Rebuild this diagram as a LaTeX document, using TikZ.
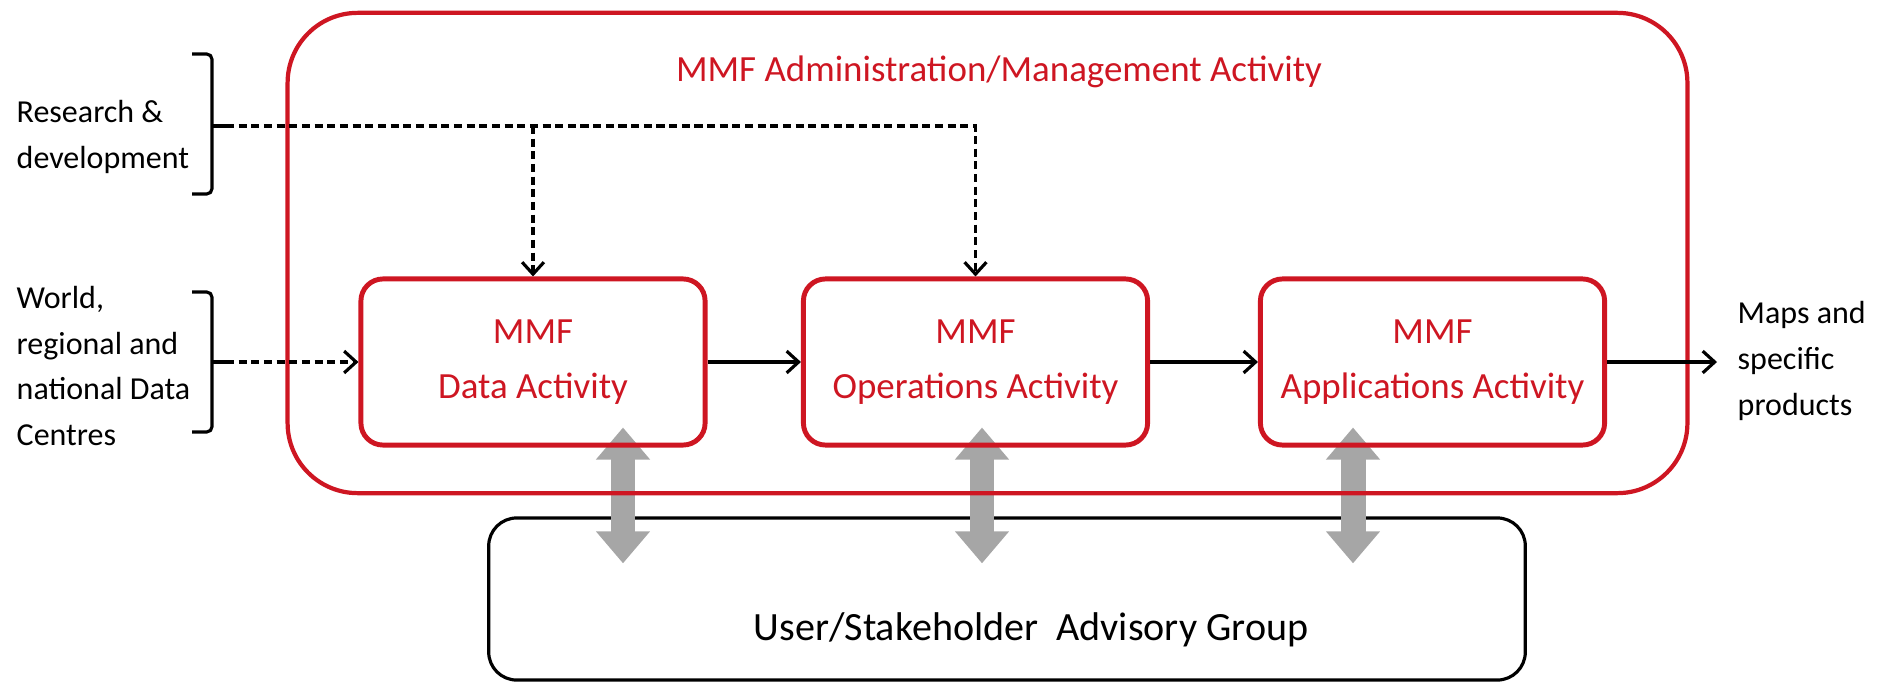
\documentclass[tikz,border=0pt]{standalone}
\usepackage{fontspec}
\setmainfont{Carlito}
\usetikzlibrary{calc}
\usetikzlibrary{arrows.meta}

\definecolor{mmfred}{RGB}{206,22,34}
\definecolor{mmfgray}{RGB}{166,166,166}

\pgfdeclarelayer{back}
\pgfsetlayers{back,main}

\tikzset{
  actbox/.style={draw=mmfred, line width=1.4pt, rounded corners=0.22cm,
    minimum width=3.44cm, minimum height=1.66cm, inner sep=0pt,
    align=center, text=mmfred, font=\fontsize{10.5pt}{15.6pt}\selectfont},
  sidetext/.style={anchor=west, align=left, inner sep=0pt,
    font=\fontsize{9.1pt}{13pt}\selectfont},
  flow/.style={->, >={Straight Barb[length=3.4pt,width=6.2pt]}, line width=0.9pt},
  dashflow/.style={flow, dash pattern=on 2.3pt off 1.3pt},
  bracket/.style={line width=0.9pt, rounded corners=1.5pt},
  bigarrow/.style={draw=mmfgray, line width=7.1pt,
    {Triangle[width=14.8pt,length=9.1pt]}-{Triangle[width=14.8pt,length=9.1pt]}}
}

\begin{document}
\begin{tikzpicture}[x=0.01cm, y=-0.01cm]
\useasboundingbox (0,0) rectangle (1885,682);

% outer management box
\node[draw=mmfred, line width=1.2pt, rounded corners=0.7cm,
  minimum width=13.99cm, minimum height=4.8cm] (admin) at (987.5,253) {};
\node[text=mmfred, font=\fontsize{10.5pt}{12pt}\selectfont] (admintitle) at (999,72)
  {MMF Administration/Management Activity};

% the three activities
\node[actbox] (data) at (533,362) {MMF\\Data Activity};
\node[actbox] (ops) at (975.5,362) {MMF\\Operations Activity};
\node[actbox] (apps) at (1432.5,362) {MMF\\Applications Activity};

% inputs and outputs
\node[sidetext] (research) at (16,137) {Research \&\\development};
\node[sidetext] (centres) at (16,366) {World,\\regional and\\national Data\\Centres};
\node[sidetext] (maps) at (1737,361) {Maps and\\specific\\products};

\coordinate (rdtip) at (226,126);
\coordinate (wdtip) at (226,362);
\coordinate (prodend) at (1717,362);

\draw[bracket] (192,54) -- (212,54) -- (212,126) -- (212,194) -- (192,194);
\draw[line width=0.9pt] (212,126) -- (rdtip);
\draw[bracket] (192,292) -- (212,292) -- (212,362) -- (212,432) -- (192,432);
\draw[line width=0.9pt] (212,362) -- (wdtip);

\draw[dashflow] (rdtip) -- (rdtip -| ops.north) -- (ops.north);
\draw[dashflow] (rdtip -| data.north) -- (data.north);
\draw[dashflow] (wdtip) -- (data.west);

\draw[flow] (data) -- (ops);
\draw[flow] (ops) -- (apps);
\draw[flow] (apps) -- (prodend);

% advisory group, under the red boxes
\begin{pgfonlayer}{back}
\node[draw, line width=0.9pt, rounded corners=0.28cm,
  minimum width=10.36cm, minimum height=1.62cm] (user) at (1007,599) {};
\node[font=\fontsize{11.4pt}{13pt}\selectfont] (usertext) at (1031,630)
  {User/Stakeholder\ \ Advisory Group};
\foreach \act/\dx in {data/90, ops/6.5, apps/-79.5}
  \draw[bigarrow] ($(\act.south)+(\dx,-20)$) -- ($(\act.south |- user.north)+(\dx,47)$);
\end{pgfonlayer}

\end{tikzpicture}
\end{document}
